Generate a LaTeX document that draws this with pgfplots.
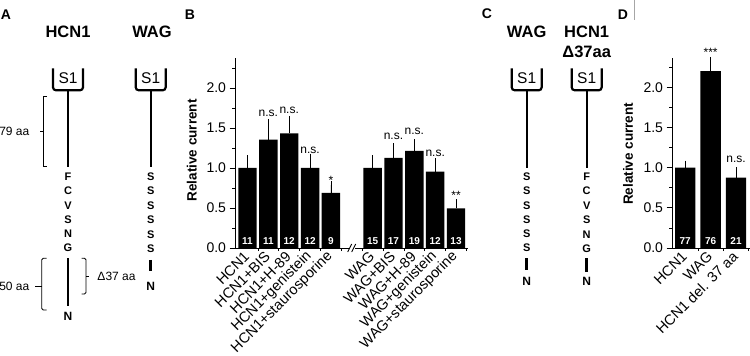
\documentclass[border=0pt]{standalone}
\usepackage{fontspec}
\setmainfont{Liberation Sans}
\usepackage{pgfplots}
\usepackage{pgfplotstable}
\usetikzlibrary{calc}
\pgfplotsset{compat=1.18}
\newcommand\fs[1]{\fontsize{#1}{#1}\selectfont}

\pgfplotstableread{
x y e n
0 1.00 0.117 11
1 1.354 0.217 11
2 1.433 0.175 12
3 1.00 0.133 12
4 0.688 0.10 9
6 1.00 0.117 15
7 1.125 0.138 17
8 1.213 0.10 19
9 0.954 0.121 12
10 0.496 0.067 13
}\dataB

\pgfplotstableread{
x y t
1 1.64 n.s.
2 1.68 n.s.
3 1.18 n.s.
4 0.80 *
7 1.35 n.s.
8 1.42 n.s.
9 1.14 n.s.
10 0.605 **
}\annB

\pgfplotstableread{
x y e n
0 1.00 0.046 77
1 2.204 0.126 76
2 0.875 0.085 21
}\dataD

\pgfplotstableread{
x y t
1 2.38 ***
2 1.07 n.s.
}\annD

\pgfplotsset{
  barpanel/.style={
    scale only axis,
    anchor=south west,
    clip=false,
    axis x line*=bottom,
    axis y line*=left,
    axis line style={-, line width=0.9bp, black},
    ymin=0,
    ytick={0,0.5,1,1.5,2},
    minor ytick={0.25,0.75,1.25,1.75,2.25},
    tick align=outside,
    major tick length=5.5bp,
    minor tick length=3bp,
    every tick/.style={black, line width=0.8bp},
    major x tick style={draw=none},
    yticklabel style={font=\fs{14bp}, /pgf/number format/.cd, fixed, fixed zerofill, precision=1, assume math mode=true},
    xticklabel style={font=\fs{14.5bp}, rotate=45, anchor=east, inner sep=1bp},
    ylabel={Relative current},
    ylabel style={font=\fs{13.5bp}\bfseries, anchor=center, rotate=0},
    scaled y ticks=false,
  },
  numlab/.style={only marks, mark=*, mark size=0pt, mark options={draw=none, fill=none},
    nodes near coords, point meta=explicit symbolic,
    nodes near coords style={text=white, font=\fs{10bp}\bfseries, anchor=base, inner sep=0pt}},
  annlab/.style={only marks, mark=*, mark size=0pt, mark options={draw=none, fill=none},
    nodes near coords, point meta=explicit symbolic,
    nodes near coords style={text=black, font=\fs{12bp}, anchor=base, inner sep=0pt}},
}

\begin{document}
\begin{tikzpicture}
\path[use as bounding box, fill=white] (0,0) rectangle (750bp,356bp);

% ---------- schematics (pixel coordinates, y downward) ----------
\begin{scope}[x=1bp, y=-1bp, shift={(0,356bp)}]
  \tikzset{
    ttl/.style={font=\fs{16.5bp}\bfseries, inner sep=0pt},
    res/.style={font=\fs{11bp}\bfseries, inner sep=0pt},
    nterm/.style={font=\fs{12bp}\bfseries, inner sep=0pt},
    plab/.style={font=\fs{14bp}\bfseries, inner sep=0pt},
    aa/.style={font=\fs{12bp}, inner sep=0pt},
  }
  \newcommand\sone[2]{% x center, stem bottom
    \draw[line width=2.2bp, rounded corners=3bp] (#1-15,68.3) -- (#1-15,90.3) -- (#1+15,90.3) -- (#1+15,68.3);
    \node[font=\fs{15.5bp}, inner sep=0pt] at (#1,78.5) {S1};
    \draw[line width=2.2bp] (#1,90.3) -- (#1,#2);
  }
  % panel letters
  \node[plab] at (6,15) {A};
  \node[plab] at (190,15) {B};
  \node[plab] at (487,14) {C};
  \node[plab] at (623,15) {D};
  \draw[gray!70, line width=0.6bp] (634.3,0) -- (634.3,20);

  % ---- Panel A ----
  \node[ttl] at (68,32) {HCN1};
  \node[ttl] at (152,32) {WAG};
  \sone{68}{166.7}
  \sone{150.7}{166.7}
  \foreach \t [count=\i from 0] in {F,C,V,S,N,G} {
    \node[res] at (68,176.7+14.3*\i) {\t};
  }
  \draw[line width=2.8bp] (68,258.3) -- (68,306);
  \node[nterm] at (68,316) {N};
  \foreach \i in {0,...,5} {
    \node[res] at (150.7,176.7+14.4*\i) {S};
  }
  \draw[line width=2.8bp] (150.7,260) -- (150.7,270.7);
  \node[nterm] at (150.7,286) {N};
  % brackets
  \draw[line width=0.8bp] (47,96.7) -- (43.3,96.7) -- (43.3,166.7) -- (47,166.7);
  \draw[line width=0.8bp] (40,131.7) -- (43.3,131.7);
  \node[aa, anchor=east] at (29.5,131.7) {79 aa};
  \draw[line width=0.8bp, rounded corners=1.5bp] (46.7,258.3) -- (41.7,258.3) -- (41.7,310) -- (46.7,310);
  \draw[line width=0.8bp] (35,286.7) -- (41.7,286.7);
  \node[aa, anchor=east] at (29.5,286.7) {50 aa};
  \draw[line width=0.8bp, rounded corners=1.5bp] (81.7,258.3) -- (86,258.3) -- (86,294) -- (81.7,294);
  \draw[line width=0.8bp] (86,276) -- (89.3,276);
  \node[aa, anchor=west] at (97.3,276) {Δ37 aa};

  % ---- Panel C ----
  \node[ttl] at (526.7,32.3) {WAG};
  \node[ttl] at (586.7,32.3) {HCN1};
  \node[ttl] at (586.7,51.7) {Δ37aa};
  \sone{526.7}{168.3}
  \sone{586.7}{168.3}
  \foreach \i in {0,...,5} {
    \node[res] at (526.7,176.7+14.3*\i) {S};
  }
  \draw[line width=2.8bp] (526.7,258.3) -- (526.7,270);
  \node[nterm] at (526.7,281) {N};
  \foreach \t [count=\i from 0] in {F,C,V,S,N,G} {
    \node[res] at (586.7,176.7+14.5*\i) {\t};
  }
  \draw[line width=2.8bp] (586.7,258.3) -- (586.7,271.7);
  \node[nterm] at (586.7,281.7) {N};
\end{scope}

% ---------- Panel B ----------
\begin{axis}[barpanel,
  at={(235bp,108bp)},
  width=232.5bp, height=190.4bp,
  xmin=-0.6, xmax=10.55, ymax=2.38,
  xtick={0,1,2,3,4,6,7,8,9,10},
  xticklabels={HCN1,HCN1+BIS,HCN1+H-89,HCN1+genistein,HCN1+staurosporine,WAG,WAG+BIS,WAG+H-89,WAG+genistein,WAG+staurosporine},
  minor xtick={0.5,1.5,2.5,3.5,4.5,5.5,6.5,7.5,8.5,9.5,10.5},
  ylabel style={at={(axis description cs:-0.186,0.513)}},
]
\addplot[ybar, bar width=18.4bp, bar shift=0pt, fill=black, draw=none,
  error bars/.cd, y dir=plus, y explicit,
  error bar style={draw=black, line width=0.8bp},
  error mark options={draw=black, line width=0.8bp, mark size=3.5bp}]
  table[x=x, y=y, y error=e] {\dataB};
\addplot[numlab] table[x=x, y expr=0.05, meta=n] {\dataB};
\addplot[annlab] table[x=x, y=y, meta=t] {\annB};
\coordinate (brk) at (axis cs:5.02,0);
\end{axis}
\fill[white] ($(brk)+(-2.5bp,-2bp)$) rectangle ($(brk)+(2.5bp,2bp)$);
\draw[line width=0.8bp] ($(brk)+(-4.5bp,-4bp)$) -- ($(brk)+(-0.5bp,4bp)$);
\draw[line width=0.8bp] ($(brk)+(-0.5bp,-4bp)$) -- ($(brk)+(3.5bp,4bp)$);

% ---------- Panel D ----------
\begin{axis}[barpanel,
  at={(672bp,108bp)},
  width=78bp, height=189.5bp,
  xmin=-0.52, xmax=2.55, ymax=2.36,
  xtick={0,1,2},
  xticklabels={HCN1,WAG,HCN1 del. 37 aa},
  minor xtick={0.5,1.5,2.5},
  ylabel style={at={(axis description cs:-0.565,0.497)}},
]
\addplot[ybar, bar width=20.3bp, bar shift=0pt, fill=black, draw=none,
  error bars/.cd, y dir=plus, y explicit,
  error bar style={draw=black, line width=0.8bp},
  error mark options={draw=black, line width=0.8bp, mark size=3.5bp}]
  table[x=x, y=y, y error=e] {\dataD};
\addplot[numlab] table[x=x, y expr=0.04, meta=n] {\dataD};
\addplot[annlab] table[x=x, y=y, meta=t] {\annD};
\end{axis}
\end{tikzpicture}
\end{document}
